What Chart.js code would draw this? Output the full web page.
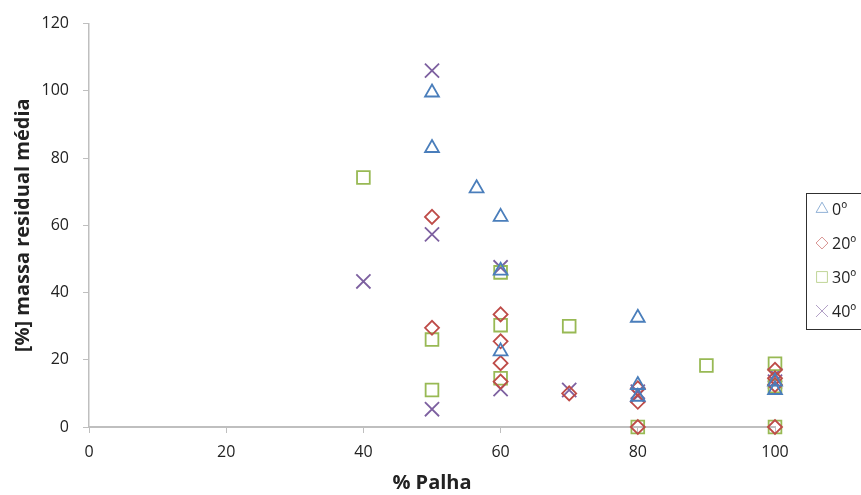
<!DOCTYPE html>
<html>
<head>
<meta charset="utf-8">
<script src="https://cdn.jsdelivr.net/npm/chart.js@4/dist/chart.umd.min.js"></script>
<style>
  html, body { margin: 0; padding: 0; background: #fff; }
  #grafico { display: block; }
</style>
</head>
<body>
<canvas id="grafico" width="861" height="495"></canvas>
<script>
// --- dados ---
const x0 = [50, 50, 56.5, 60, 60, 60, 80, 80, 80, 100, 100];
const y0 = [99.5, 83, 71, 62.5, 46.5, 22.5, 32.5, 12.5, 9, 13.5, 11];

const x20 = [50, 50, 60, 60, 60, 60, 70, 80, 80, 80, 100, 100, 100, 100];
const y20 = [62.5, 29.5, 33.5, 25.5, 19, 13.5, 10, 11.5, 7.5, 0, 17, 14.5, 12.5, 0];

const x30 = [40, 50, 50, 60, 60, 60, 70, 80, 90, 100, 100, 100];
const y30 = [74.2, 26, 11, 46, 30.3, 14.5, 30, 0, 18.3, 18.8, 12.2, 0];

const x40 = [40, 50, 50, 50, 60, 60, 70, 80, 80, 100, 100];
const y40 = [43.3, 106, 57.3, 5.3, 47.5, 11.3, 11, 10.5, 9.3, 15.5, 13.5];

const serieNomes = ['0º', '20º', '30º', '40º'];
const xMin = 0, xMax = 100, xStep = 20;
const yMin = 0, yMax = 120, yStep = 20;

const toPts = (xs, ys) => xs.map((x, i) => ({ x, y: ys[i] }));

const estilos = [
    { cor: '#4A7EBB', pointStyle: 'triangle', r: 8 },
    { cor: '#BE4B48', pointStyle: 'rectRot', r: 7 },
    { cor: '#98B954', pointStyle: 'rect', r: 9 },
    { cor: '#7D60A0', pointStyle: 'crossRot', r: 10 }
];
const dadosSeries = [toPts(x0, y0), toPts(x20, y20), toPts(x30, y30), toPts(x40, y40)];

const fonte = "'Open Sans', 'DejaVu Sans', sans-serif";
const corTexto = '#222';
const corEixo = '#bfbfbf';

// legenda desenhada à mão, com caixa (como no Excel)
const legendaCaixa = {
    id: 'legendaCaixa',
    afterDraw(chart) {
        const ctx = chart.ctx;
        const bx = 806.5, by = 193.5, bw = 80, bh = 136;
        ctx.save();
        ctx.strokeStyle = '#303030';
        ctx.lineWidth = 1;
        ctx.strokeRect(bx, by, bw, bh);
        ctx.font = '16px ' + fonte;
        ctx.textBaseline = 'middle';
        ctx.textAlign = 'left';
        chart.data.datasets.forEach((ds, i) => {
            const cy = 209 + i * 34;
            const est = estilos[i];
            ctx.globalAlpha = 0.6;
            ctx.strokeStyle = est.cor;
            ctx.fillStyle = 'rgba(0,0,0,0)';
            Chart.helpers.drawPoint(ctx, {
                pointStyle: est.pointStyle,
                radius: est.r * 0.85,
                borderWidth: 1.2,
                rotation: 0
            }, 822, cy);
            ctx.globalAlpha = 1;
            ctx.fillStyle = corTexto;
            ctx.fillText(ds.label, 832, cy + 1);
        });
        ctx.restore();
    }
};

new Chart(document.getElementById('grafico'), {
    type: 'scatter',
    data: {
        datasets: dadosSeries.map((d, i) => ({
            label: serieNomes[i],
            data: d,
            showLine: false,
            clip: false,
            pointStyle: estilos[i].pointStyle,
            pointRadius: estilos[i].r,
            pointHoverRadius: estilos[i].r,
            pointBorderWidth: 1.8,
            borderColor: estilos[i].cor,
            backgroundColor: 'rgba(0,0,0,0)',
            pointBackgroundColor: 'rgba(0,0,0,0)'
        }))
    },
    options: {
        responsive: false,
        animation: false,
        devicePixelRatio: 1,
        layout: { padding: { top: 22, right: 86, bottom: 0, left: 0 } },
        plugins: {
            legend: { display: false },
            tooltip: { enabled: false }
        },
        scales: {
            x: {
                type: 'linear',
                min: xMin, max: xMax,
                ticks: { stepSize: xStep, color: corTexto, font: { family: fonte, size: 16 }, padding: 10 },
                grid: { drawOnChartArea: false, drawTicks: true, tickLength: 6, color: corEixo, lineWidth: 1 },
                border: { color: corEixo, width: 2 },
                title: {
                    display: true, text: '% Palha', color: corTexto,
                    font: { family: fonte, size: 20, weight: 'bold' },
                    padding: { top: 0, bottom: 0 }
                },
                afterFit: s => { s.height = 68; }
            },
            y: {
                min: yMin, max: yMax,
                ticks: { stepSize: yStep, color: corTexto, font: { family: fonte, size: 16 }, padding: 14 },
                grid: { drawOnChartArea: false, drawTicks: true, tickLength: 6, color: corEixo, lineWidth: 1 },
                border: { color: corEixo, width: 1.5 },
                title: {
                    display: true, text: '[%] massa residual média', color: corTexto,
                    font: { family: fonte, size: 20, weight: 'bold' },
                    padding: { top: 11, bottom: 0 }
                },
                afterFit: s => { s.width = 89; }
            }
        }
    },
    plugins: [legendaCaixa]
});
</script>
</body>
</html>
